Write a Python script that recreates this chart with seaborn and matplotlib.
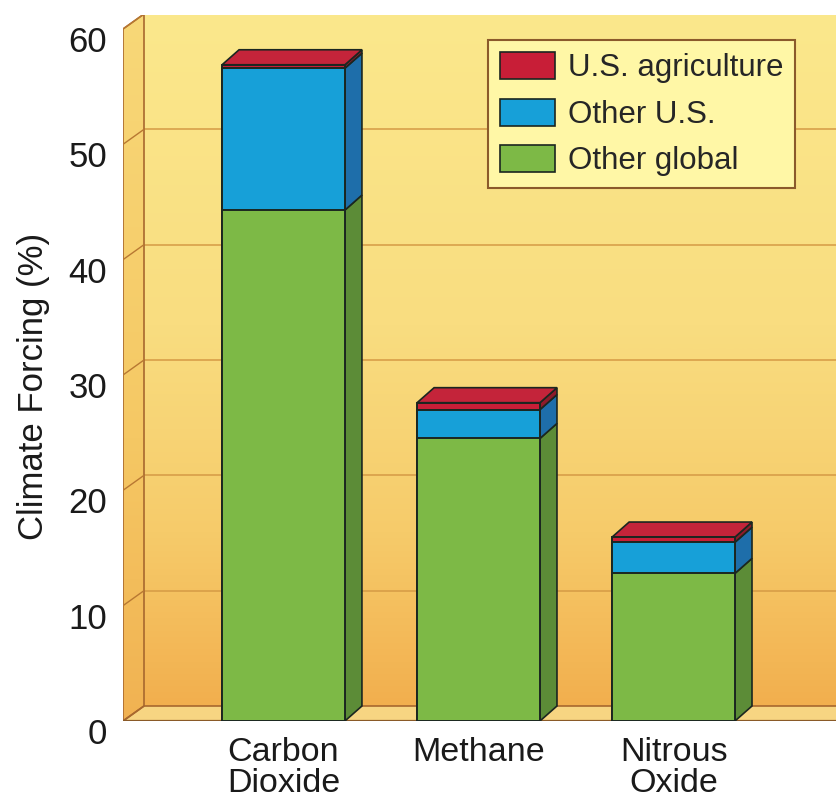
import numpy as np
import pandas as pd
import matplotlib
matplotlib.use("Agg")
import matplotlib.pyplot as plt
from matplotlib.colors import LinearSegmentedColormap
from matplotlib.patches import Polygon, Patch
from matplotlib.transforms import ScaledTranslation
import seaborn as sns

# ---- data -------------------------------------------------------------
categories = ["Carbon\nDioxide", "Methane", "Nitrous\nOxide"]
other_global = [44.3, 24.5, 12.8]
other_us = [12.3, 2.5, 2.7]
us_agriculture = [0.3, 0.6, 0.45]
series_names = ["U.S. agriculture", "Other U.S.", "Other global"]
y_ticks = [0, 10, 20, 30, 40, 50, 60]
y_label = "Climate Forcing (%)"

# ---- style ------------------------------------------------------------
sns.set_theme(style="white")
plt.rcParams["font.family"] = ["Liberation Sans", "DejaVu Sans"]

face = {"U.S. agriculture": "#C81E37", "Other U.S.": "#17A0D8", "Other global": "#7DB946"}
side = {"U.S. agriculture": "#8E1B2A", "Other U.S.": "#1E6EAA", "Other global": "#5C8C37"}
edge = "#1B2620"

W, H = 837, 800
fig = plt.figure(figsize=(W / 100, H / 100), dpi=100)

# main axes: front plane of the chart box (plus room for the depth on top)
ax_left, ax_bottom_px, ax_top_px = 123, 721, 15
y_front_top_px = 29
ax = fig.add_axes([ax_left / W, (H - ax_bottom_px) / H, (W - ax_left) / W,
                   (ax_bottom_px - ax_top_px) / H])
x_lo, x_hi = -0.823, 2.838
y_top = 60 * (ax_bottom_px - ax_top_px) / (ax_bottom_px - y_front_top_px)

px_x = (x_hi - x_lo) / (W - ax_left)        # data units per pixel, x
px_y = y_top / (ax_bottom_px - ax_top_px)   # data units per pixel, y

# depth offsets of the box walls and of the bars
wall_dx, wall_dy = 21 * px_x, 15 * px_y
bar_dx, bar_dy = 17 * px_x, 15 * px_y

# ---- box: back wall, left wall, floor --------------------------------
wall_cmap = LinearSegmentedColormap.from_list(
    "wall", [(0.0, "#FBE88C"), (0.45, "#F9DD80"), (0.75, "#F6CB6A"), (1.0, "#F2AF4E")])
grad = np.linspace(0, 1, 256).reshape(-1, 1)
ax.imshow(grad, cmap=wall_cmap, aspect="auto", origin="upper",
          extent=[x_lo + wall_dx, x_hi, wall_dy, 60 + wall_dy], zorder=0,
          interpolation="bicubic")

side_cmap = LinearSegmentedColormap.from_list(
    "side", [(0.0, "#F8D878"), (0.6, "#F5C864"), (1.0, "#F1B252")])
left_wall = Polygon([(x_lo, 0), (x_lo + wall_dx, wall_dy), (x_lo + wall_dx, 60 + wall_dy),
                     (x_lo, 60)], closed=True, facecolor="none", edgecolor="#A8682E",
                    linewidth=1.2, zorder=1.5)
ax.add_patch(left_wall)
im_side = ax.imshow(grad, cmap=side_cmap, aspect="auto", origin="upper",
                    extent=[x_lo, x_lo + wall_dx, 0, 60 + wall_dy], zorder=1,
                    interpolation="bicubic")
im_side.set_clip_path(left_wall)

floor = Polygon([(x_lo, 0), (x_hi, 0), (x_hi, wall_dy), (x_lo + wall_dx, wall_dy)],
                closed=True, facecolor="#F7D582", edgecolor="#A8682E", linewidth=1.2,
                zorder=1)
ax.add_patch(floor)

# gridlines on the back wall and on the left wall
grid_c = "#D59A45"
for t in y_ticks[1:]:
    ax.plot([x_lo + wall_dx, x_hi], [t + wall_dy, t + wall_dy], color=grid_c,
            lw=1.1, zorder=0.5)
    ax.plot([x_lo, x_lo + wall_dx], [t, t + wall_dy], color="#B87832", lw=1.0, zorder=1.6)
ax.plot([x_lo + wall_dx, x_hi], [60 + wall_dy] * 2, color="#A8682E", lw=1.4, zorder=1.6)
ax.plot([x_lo, x_hi], [0, 0], color="#8A5A28", lw=1.6, zorder=1.6)

# ---- stacked bars (front faces) --------------------------------------
df = pd.DataFrame({"category": categories,
                   "Other global": other_global,
                   "Other U.S.": other_us,
                   "U.S. agriculture": us_agriculture})
df["g_top"] = df["Other global"]
df["b_top"] = df["g_top"] + df["Other U.S."]
df["r_top"] = df["b_top"] + df["U.S. agriculture"]

bar_w = 0.63
for col, name in [("r_top", "U.S. agriculture"), ("b_top", "Other U.S."),
                  ("g_top", "Other global")]:
    sns.barplot(data=df, x="category", y=col, color=face[name], saturation=1,
                width=bar_w, edgecolor=edge, linewidth=1.4, ax=ax, zorder=3)

# ---- 3D sides and tops -----------------------------------------------
for i, row in df.iterrows():
    xl, xr = i - bar_w / 2, i + bar_w / 2
    segs = [(0, row["g_top"], "Other global"),
            (row["g_top"], row["b_top"], "Other U.S."),
            (row["b_top"], row["r_top"], "U.S. agriculture")]
    for y0, y1, name in segs:
        ax.add_patch(Polygon([(xr, y0), (xr + bar_dx, y0 + bar_dy),
                              (xr + bar_dx, y1 + bar_dy), (xr, y1)], closed=True,
                             facecolor=side[name], edgecolor=edge, linewidth=1.2,
                             zorder=2.5))
    t = row["r_top"]
    ax.add_patch(Polygon([(xl, t), (xr, t), (xr + bar_dx, t + bar_dy),
                          (xl + bar_dx, t + bar_dy)], closed=True,
                         facecolor="#C4243A", edgecolor=edge, linewidth=1.2, zorder=2.6))

# ---- axes cosmetics --------------------------------------------------
ax.set_xlim(x_lo, x_hi)
ax.set_ylim(0, y_top)
ax.patch.set_visible(False)
for s in ax.spines.values():
    s.set_visible(False)
ax.set_xlabel("")
ax.set_ylabel("")
ax.set_yticks(y_ticks)
ax.set_yticklabels([str(t) for t in y_ticks])
ax.tick_params(axis="y", length=0, pad=11.5, labelsize=25, labelcolor="#1a1a1a")
ax.tick_params(axis="x", length=0, pad=11.5, labelsize=24.5, labelcolor="#1a1a1a")
shift = ScaledTranslation(0, -0.10, fig.dpi_scale_trans)
for lab in ax.get_yticklabels():
    lab.set_transform(lab.get_transform() + shift)
for lab in ax.get_xticklabels():
    lab.set_linespacing(1.02)

fig.text(34 / W, 1 - 386 / H, y_label, rotation=90, ha="center", va="center",
         fontsize=25, color="#1a1a1a")

# ---- legend ----------------------------------------------------------
handles = [Patch(facecolor=face[n], edgecolor=edge, linewidth=1.2) for n in series_names]
leg = ax.legend(handles, series_names, loc="upper left",
                bbox_to_anchor=(488 / W, 1 - 40 / H), bbox_transform=fig.transFigure,
                borderaxespad=0, fontsize=22.5, frameon=True, fancybox=False,
                handlelength=1.76, handleheight=0.96, handletextpad=0.42,
                labelspacing=0.49, borderpad=0.38)
leg.get_frame().set_facecolor("#FFF7A6")
leg.get_frame().set_edgecolor("#8B5A2B")
leg.get_frame().set_linewidth(1.5)
leg.get_frame().set_alpha(1)
leg.set_zorder(10)

fig.savefig("out.png", dpi=100, facecolor="white")
